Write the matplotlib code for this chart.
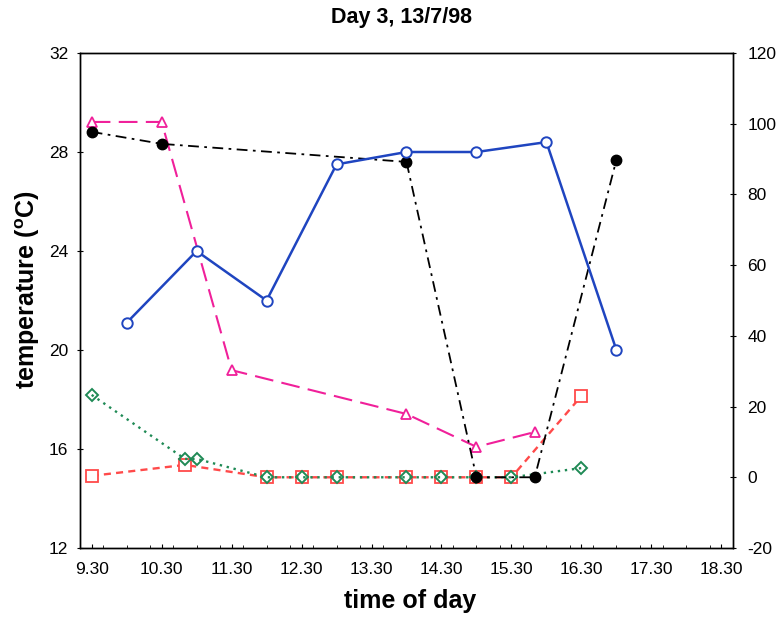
import matplotlib
matplotlib.use("Agg")
import matplotlib.pyplot as plt
from matplotlib.ticker import FixedLocator

plt.rcParams['font.family'] = ['Liberation Sans', 'DejaVu Sans']
plt.rcParams['mathtext.fontset'] = 'custom'
plt.rcParams['mathtext.rm'] = 'Liberation Sans:bold'
plt.rcParams['mathtext.bf'] = 'Liberation Sans:bold'
plt.rcParams['axes.unicode_minus'] = False

# time of day in decimal hours
tick_hours = [9.5, 10.5, 11.5, 12.5, 13.5, 14.5, 15.5, 16.5, 17.5, 18.5]
tick_labels = ["9.30", "10.30", "11.30", "12.30", "13.30", "14.30",
               "15.30", "16.30", "17.30", "18.30"]

# air temperature (left axis)
temp_t = [10.0, 11.0, 12.0, 13.0, 14.0, 15.0, 16.0, 17.0]
temp_v = [21.1, 24.0, 22.0, 27.5, 28.0, 28.0, 28.4, 20.0]

# right-axis series
black_t = [9.5, 10.5, 14.0, 15.0, 15.833, 17.0]
black_v = [97.7, 94.3, 89.2, 0.0, 0.0, 89.8]

pink_t = [9.5, 10.5, 11.5, 14.0, 15.0, 15.833]
pink_v = [100.5, 100.5, 30.3, 17.9, 8.6, 12.8]

red_t = [9.5, 10.833, 12.0, 12.5, 13.0, 14.0, 14.5, 15.0, 15.5, 16.5]
red_v = [0.4, 3.5, 0.0, 0.0, 0.0, 0.0, 0.0, 0.0, 0.0, 23.0]

green_t = [9.5, 10.833, 11.0, 12.0, 12.5, 13.0, 14.0, 14.5, 15.0, 15.5, 16.5]
green_v = [23.3, 5.2, 5.2, 0.0, 0.0, 0.0, 0.0, 0.0, 0.0, 0.0, 2.6]

fig = plt.figure(figsize=(7.78, 6.17), dpi=100)
ax = fig.add_axes([80/778, 1-548/617, 653/778, 495/617])
ax2 = ax.twinx()

ax.set_xlim(9 + 1/3, 18 + 2/3)
ax.set_ylim(12, 32)
ax2.set_ylim(-20, 120)

# right-axis series
ax2.plot(red_t, red_v, color='#ff4a4a', lw=1.7, dashes=(3, 2.2),
         marker='s', ms=8, mfc='white', mec='#ff4a4a', mew=1.3, zorder=2)
ax2.plot(green_t, green_v, color='#1f8a55', lw=1.7, dashes=(1, 2.0),
         marker='D', ms=6.5, mfc='none', mec='#1f8a55', mew=1.4, zorder=3)
ax2.plot(pink_t, pink_v, color='#f0209a', lw=1.5, dashes=(9, 4),
         marker='^', ms=7.5, mfc='white', mec='#f0209a', mew=1.3, zorder=4)
ax2.plot(black_t, black_v, color='black', lw=1.3, dashes=(6, 3, 1.5, 3),
         marker='o', ms=7.5, mfc='black', mec='black', zorder=5)

# temperature
ax.set_zorder(ax2.get_zorder() + 1)
ax.patch.set_visible(False)
ax.plot(temp_t, temp_v, color='#1f45c0', lw=1.8,
        marker='o', ms=7.5, mfc='white', mec='#1f45c0', mew=1.4, zorder=6)

ax.set_xticks(tick_hours)
ax.set_xticklabels(tick_labels)
ax.xaxis.set_minor_locator(FixedLocator([9 + 1/3 + k/3 for k in range(29)]))
ax.set_yticks([12, 16, 20, 24, 28, 32])
ax2.set_yticks([-20, 0, 20, 40, 60, 80, 100, 120])

ax.tick_params(axis='x', which='major', direction='in', length=3, pad=10,
               labelsize=12.5, width=0.8)
ax.tick_params(axis='x', which='minor', direction='in', length=2, width=0.6)
ax.tick_params(axis='y', direction='inout', length=5, pad=6, labelsize=12.5,
               width=0.8)
ax2.tick_params(axis='y', direction='inout', length=5, pad=8, labelsize=12.5,
                width=0.8)
ax.tick_params(top=False)

for a in (ax, ax2):
    for s in a.spines.values():
        s.set_linewidth(1.0)

fig.text(401/778, 1-18/617, "Day 3, 13/7/98", ha='center', va='center',
         fontsize=15.5, fontweight='bold')
fig.text(410/778, 1-601/617, "time of day", ha='center', va='center',
         fontsize=18, fontweight='bold')
fig.text(28/778, 1-290/617, r"temperature ($^{\mathrm{o}}$C)", ha='center',
         va='center', rotation=90, fontsize=18, fontweight='bold')

fig.savefig("out.png", dpi=100)
